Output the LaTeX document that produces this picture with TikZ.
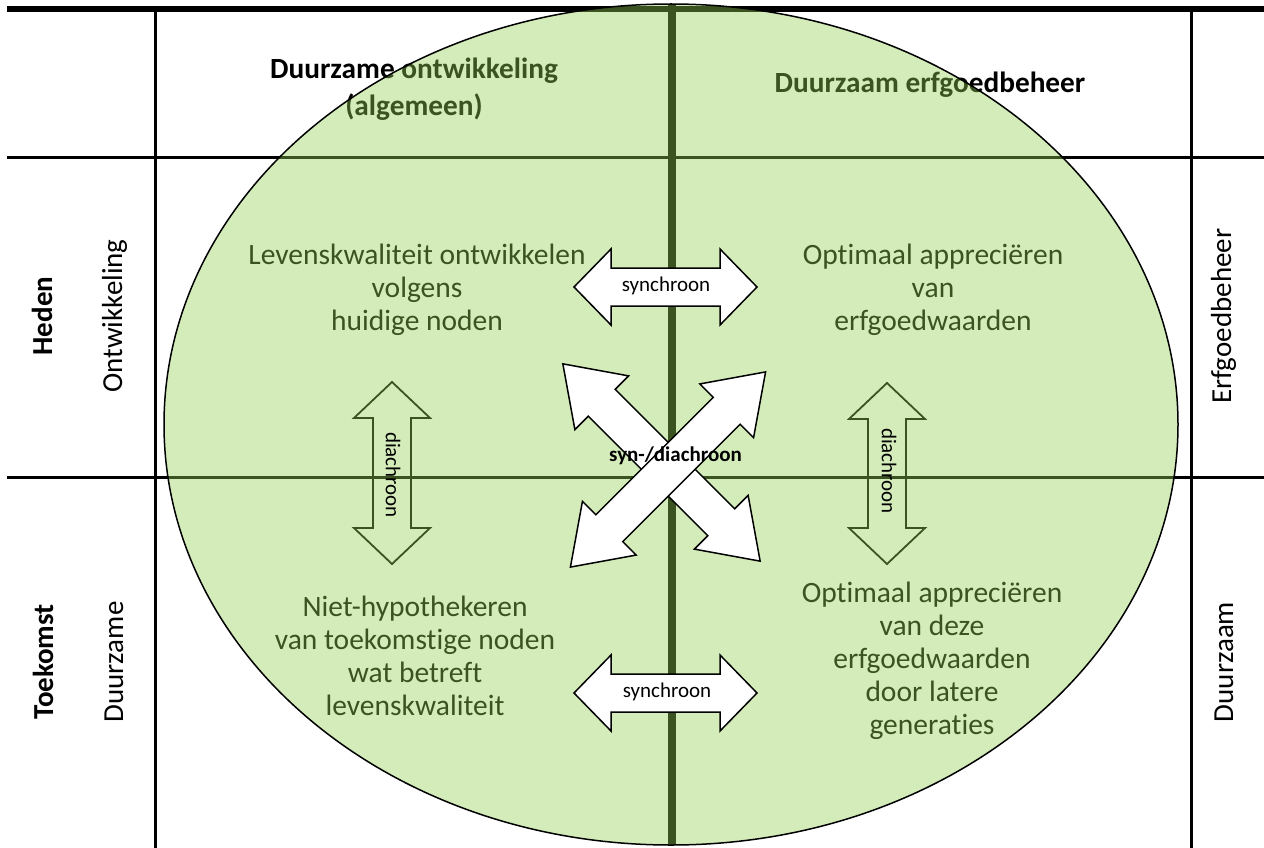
\documentclass[tikz,border=0pt]{standalone}
\usepackage{fontspec}
\setmainfont{Carlito}[Ligatures=NoCommon]
\usetikzlibrary{shapes.geometric}
\definecolor{elfill}{HTML}{92D050}
\newcommand\DArr[5]{\draw[#1,shift={#2},rotate=#3]
 ({-#4},0) -- ({-#4+#5},38) -- ({-#4+#5},19) -- ({#4-#5},19) -- ({#4-#5},38) -- ({#4},0)
 -- ({#4-#5},-38) -- ({#4-#5},-19) -- ({-#4+#5},-19) -- ({-#4+#5},-38) -- cycle;}
\tikzset{
  gridline/.style={line width=3pt,black},
  quadtext/.style={align=center,font=\fontsize{29.5}{33}\selectfont,inner sep=0pt},
  headtext/.style={align=center,font=\bfseries\fontsize{29.3}{37}\selectfont,inner sep=0pt},
  sidetext/.style={anchor=base,rotate=90,font=\fontsize{29}{33}\selectfont,inner sep=0pt},
  sidebold/.style={anchor=base,rotate=90,font=\bfseries\fontsize{29}{33}\selectfont,inner sep=0pt},
  whitearrow/.style={fill=white,draw=black,line width=1.5pt,line join=miter},
  openarrow/.style={draw=black,line width=1.8pt,line join=miter},
  arrtext/.style={font=\fontsize{21}{25}\selectfont,inner sep=0pt},
}
\begin{document}
\begin{tikzpicture}[x=1pt,y=-1pt]
\useasboundingbox (0,0) rectangle (1264,848);
% table
\coordinate (tl) at (7,9);
\coordinate (tr) at (1264,9);
\draw[line width=6pt] (tl) -- (tr);
\coordinate (h1l) at (7,158); \coordinate (h1r) at (1264,158);
\coordinate (h2l) at (7,477); \coordinate (h2r) at (1264,477);
\draw[gridline] (h1l) -- (h1r);
\draw[gridline] (h2l) -- (h2r);
\coordinate (v1t) at (155,9); \coordinate (v1b) at (155,848);
\coordinate (v2t) at (1191,9); \coordinate (v2b) at (1191,848);
\draw[gridline] (v1t) -- (v1b);
\draw[gridline] (v2t) -- (v2b);
\coordinate (mt) at (672,4); \coordinate (mb) at (672,845);
\draw[line width=8.5pt] (mt) -- (mb);
% headers
\node[headtext] (hl) at (414,89) {Duurzame ontwikkeling\\(algemeen)};
\node[headtext] (hr) at (930,85) {Duurzaam erfgoedbeheer};
% quadrant texts
\node[quadtext] (q1) at (417,290) {Levenskwaliteit ontwikkelen\\volgens\\huidige noden};
\node[quadtext] (q2) at (933,290) {Optimaal appreciëren\\van\\erfgoedwaarden};
\node[quadtext] (q3) at (415,656) {Niet-hypothekeren\\van toekomstige noden\\wat betreft\\levenskwaliteit};
\node[quadtext] (q4) at (932,661) {Optimaal appreciëren\\van deze\\erfgoedwaarden\\door latere\\generaties};
% side labels
\node[sidebold] (heden) at (52,316) {Heden};
\node[sidetext] (ontw) at (122,316) {Ontwikkeling};
\node[sidebold] (toek) at (53,662) {Toekomst};
\node[sidetext] (duurz) at (123,662) {Duurzame};
\node[sidetext] (erfg) at (1231,316) {Erfgoedbeheer};
\node[sidetext] (duurzaam) at (1233,662) {Duurzaam};
% diachroon arrows (under the ellipse)
\DArr{openarrow}{(392,473)}{90}{91}{36}
\DArr{openarrow}{(887,473.5)}{90}{90.5}{36}
% ellipse
\node[ellipse,minimum width=1014pt,minimum height=841pt,inner sep=0pt,fill=elfill,fill opacity=0.4,draw=black,draw opacity=1,line width=1.5pt] (ell) at (671,424.5) {};
% synchroon arrows
\DArr{whitearrow}{(665.5,287)}{0}{91.5}{37}
\DArr{whitearrow}{(665.5,693)}{0}{91.5}{37}
% cross arrows
\DArr{whitearrow}{(661.5,462.5)}{-45}{139.5}{55}
\DArr{whitearrow}{(668,469.5)}{45}{138}{55}
% arrow texts
\node[arrtext] (s1) at (666,286) {synchroon};
\node[arrtext] (s2) at (667,692) {synchroon};
\node[arrtext,rotate=-90] (d1) at (393,475) {diachroon};
\node[arrtext,rotate=-90] (d2) at (889,471) {diachroon};
\node[arrtext,font=\bfseries\fontsize{21}{25}\selectfont] (sd) at (675.5,456) {syn-/diachroon};
\end{tikzpicture}
\end{document}
